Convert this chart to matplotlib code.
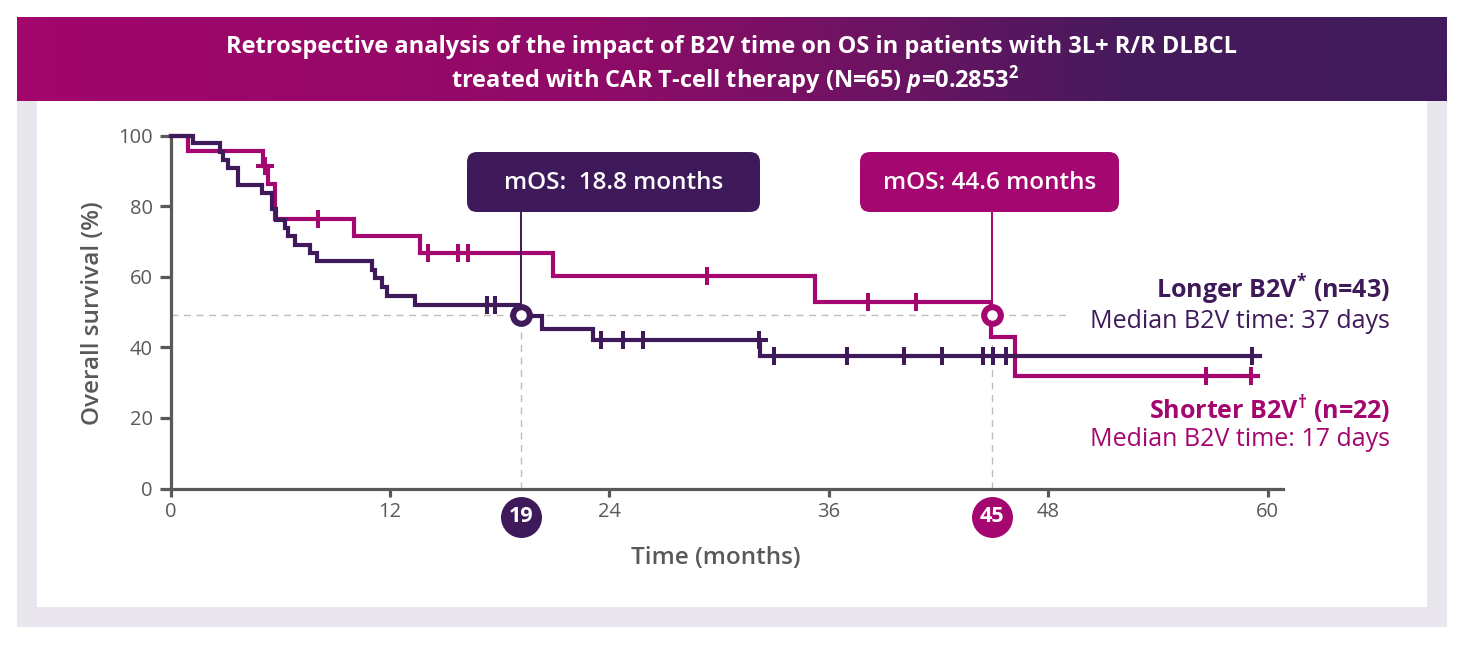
import numpy as np
import matplotlib
matplotlib.use("Agg")
import matplotlib.pyplot as plt
from matplotlib.patches import Rectangle, FancyBboxPatch
from matplotlib.colors import LinearSegmentedColormap
from matplotlib.transforms import IdentityTransform

# ---------------- data ----------------
longer_times = [0, 1.20, 2.70, 2.88, 3.15, 3.70, 4.98, 5.53, 5.75, 6.25, 6.43, 6.80,
                7.62, 7.99, 11.0, 11.18, 11.54, 11.82, 13.36, 19.05, 20.3, 23.12, 32.25]
longer_surv = [100, 97.9, 95.3, 93.0, 90.8, 86.1, 83.7, 79.1, 76.0, 73.8, 71.5, 69.1,
               66.8, 64.4, 62.0, 59.7, 57.1, 54.5, 52.1, 48.8, 45.3, 42.2, 37.6]
longer_end = 59.6
longer_censored = [17.29, 17.74, 23.54, 24.76, 25.82, 32.18, 33.0, 37.01, 40.13,
                   42.18, 44.45, 44.97, 45.69, 59.14]

shorter_times = [0, 0.96, 5.07, 5.34, 5.71, 10.03, 13.64, 20.93, 35.25, 44.87, 46.2]
shorter_surv = [100, 95.5, 91.3, 86.4, 76.4, 71.5, 66.8, 60.1, 52.8, 42.8, 32.0]
shorter_end = 59.5
shorter_censored = [5.16, 8.07, 14.09, 15.73, 16.28, 29.35, 38.16, 40.75, 56.62, 59.08]

median_marker_x = [19.15, 44.95]
median_marker_labels = ["19", "45"]
median_level = 49.2
median_texts = ["mOS:  18.8 months", "mOS: 44.6 months"]

x_ticks = [0, 12, 24, 36, 48, 60]
y_ticks = [0, 20, 40, 60, 80, 100]

title_line1 = "Retrospective analysis of the impact of B2V time on OS in patients with 3L+ R/R DLBCL"
title_line2 = r"treated with CAR T-cell therapy (N=65) $\mathit{p}$=0.2853$^{2}$"
longer_label = r"Longer B2V$^{*}$ (n=43)"
longer_sub = "Median B2V time: 37 days"
shorter_label = r"Shorter B2V$^{\dagger}$ (n=22)"
shorter_sub = "Median B2V time: 17 days"

# ---------------- style ----------------
PURPLE = "#3f1a5b"
MAGENTA = "#a4076f"
GREY = "#595959"
FONT = "Open Sans"
plt.rcParams["font.family"] = [FONT, "DejaVu Sans"]
plt.rcParams["mathtext.fontset"] = "custom"
plt.rcParams["mathtext.rm"] = FONT + ":bold"
plt.rcParams["mathtext.it"] = FONT + ":italic:bold"
plt.rcParams["mathtext.bf"] = FONT + ":bold"

W, H = 1464, 648
fig = plt.figure(figsize=(W / 100, H / 100), dpi=100)


def P(x, y):
    return (x / W, 1 - y / H)


def D(x, y):  # display pixels (origin bottom-left)
    return (x, H - y)


# background panels
fig.patches.append(Rectangle(D(17, 627), 1430, 526, transform=IdentityTransform(),
                             facecolor="#e9e6ee", edgecolor="none", zorder=-3))
fig.patches.append(Rectangle(D(37.3, 607), 1389.7, 506, transform=IdentityTransform(),
                             facecolor="white", edgecolor="none", zorder=-2))

# gradient header
hax = fig.add_axes([17 / W, 1 - 101 / H, 1430 / W, 84 / H])
cmap = LinearSegmentedColormap.from_list(
    "hdr", [(0, "#a2066b"), (0.4, "#900b67"), (0.62, "#6a1462"), (0.78, "#461a5c"), (1, "#401a5b")])
hax.imshow(np.linspace(0, 1, 600)[None, :], aspect="auto", cmap=cmap, extent=(0, 1, 0, 1))
hax.set_axis_off()
fig.text(*P(732, 47), title_line1, color="white", fontsize=17, fontweight="bold",
         ha="center", va="center")
fig.text(*P(735, 80), title_line2, color="white", fontsize=17, fontweight="bold",
         ha="center", va="center")

# main axes
x0, x1 = 170.7, 1283
y0, y1 = 488.5, 135.5
ax = fig.add_axes([x0 / W, 1 - y0 / H, (x1 - x0) / W, (y0 - y1) / H])
ax.set_xlim(0, 60 * (x1 - x0) / (1267.5 - x0))
ax.set_ylim(0, 100)
ax.patch.set_alpha(0)
for s in ["top", "right"]:
    ax.spines[s].set_visible(False)
for s in ["left", "bottom"]:
    ax.spines[s].set_color(GREY)
    ax.spines[s].set_linewidth(2.3)
ax.set_xticks(x_ticks)
ax.set_yticks(y_ticks)
ax.tick_params(axis="y", length=8, width=2.3, color=GREY, labelcolor=GREY, labelsize=14.5, pad=5)
ax.tick_params(axis="x", length=6, width=2.3, color=GREY, labelcolor=GREY, labelsize=14.5, pad=4)

# reference dashed lines
ax.plot([0, 49.2], [median_level, median_level], color="#bdbdbd", lw=1, ls=(0, (5, 4)), zorder=1)
for mx in median_marker_x:
    ax.plot([mx, mx], [0, median_level], color="#bdbdbd", lw=1, ls=(0, (5, 4)), zorder=1)


def km(times, surv, end, cens, color):
    t = list(times) + [end]
    s = list(surv) + [surv[-1]]
    ax.step(t, s, where="post", color=color, lw=3.0, zorder=3, clip_on=False,
            solid_joinstyle="miter")
    idx = np.searchsorted(np.array(times), np.array(cens), side="right") - 1
    cy = np.array(surv)[idx]
    ax.plot(cens, cy, ls="none", marker="+", ms=12.5, mew=2.9, color=color, zorder=4, clip_on=False)


km(shorter_times, shorter_surv, shorter_end, shorter_censored, MAGENTA)
km(longer_times, longer_surv, longer_end, longer_censored, PURPLE)

# connectors, circles, median boxes
box_bot_y = (y0 - 212) / 3.53
colors = [PURPLE, MAGENTA]
boxes_px = [(467, 760), (860, 1119)]
for mx, col, lab, txt, (bx0, bx1) in zip(median_marker_x, colors, median_marker_labels,
                                          median_texts, boxes_px):
    ax.plot([mx, mx], [box_bot_y, median_level], color=col, lw=1.4, zorder=5)
    ax.plot([mx], [median_level], marker="o", ms=12, mew=4.4, mfc="white", mec=col,
            zorder=6, clip_on=False)
    ax.plot([mx], [-8.0], marker="o", ms=29.5, mew=0, color=col, zorder=6, clip_on=False)
    ax.text(mx, -8.0, lab, color="white", fontsize=15.5, fontweight="bold",
            ha="center", va="center", zorder=7, clip_on=False)
    fig.patches.append(FancyBboxPatch(D(bx0 + 10, 212 - 10), bx1 - bx0 - 20, 40,
                                      boxstyle="round,pad=10", transform=IdentityTransform(),
                                      facecolor=col, edgecolor="none", zorder=8))
    fig.text(*P((bx0 + bx1) / 2, 183), txt, color="white", fontsize=17.5, fontweight="semibold",
             ha="center", va="center", zorder=9)

# labels
fig.text(*P(716, 558), "Time (months)", color=GREY, fontsize=17.5, fontweight="semibold",
         ha="center", va="center")
fig.text(*P(93, 313), "Overall survival (%)", color=GREY, fontsize=17.5, fontweight="semibold",
         ha="center", va="center", rotation=90)

fig.text(*P(1390, 290), longer_label, color=PURPLE, fontsize=18, fontweight="bold",
         ha="right", va="center")
fig.text(*P(1390, 321), longer_sub, color=PURPLE, fontsize=18, ha="right", va="center")
fig.text(*P(1390, 410), shorter_label, color=MAGENTA, fontsize=18, fontweight="bold",
         ha="right", va="center")
fig.text(*P(1390, 440), shorter_sub, color=MAGENTA, fontsize=18, ha="right", va="center")

fig.savefig("out.png", dpi=100)
